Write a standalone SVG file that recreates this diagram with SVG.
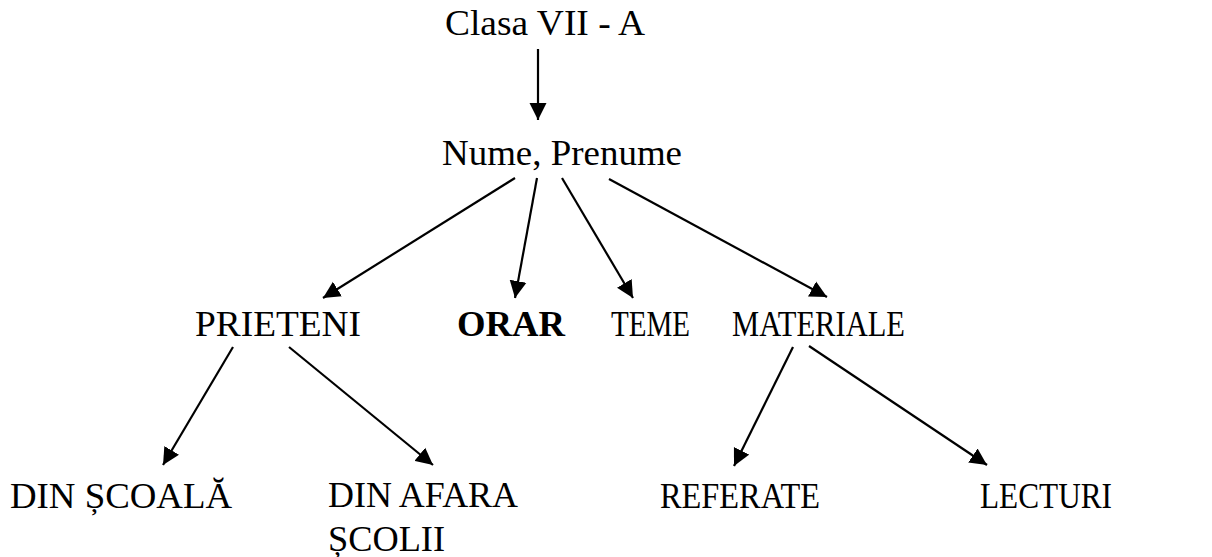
<svg xmlns="http://www.w3.org/2000/svg" width="1212" height="557" viewBox="0 0 1212 557">
<style>
text{font-family:"Liberation Serif","Times New Roman",serif;font-size:36px;fill:#000}
.b{font-weight:bold}
.c line{stroke:#000;stroke-width:2.2;marker-end:url(#ah)}
</style>
<defs>
<marker id="ah" markerUnits="userSpaceOnUse" markerWidth="18" markerHeight="18" refX="17" refY="9" orient="auto" viewBox="0 0 18 18">
<path d="M0,0.5 L17,9 L0,17.5 z" fill="#000"/>
</marker>
</defs>
<rect width="1212" height="557" fill="#fff"/>
<g class="c" id="connectors">
<line x1="538" y1="49" x2="538" y2="120"/>
<line x1="515" y1="178" x2="323" y2="298"/>
<line x1="537" y1="178" x2="515" y2="298"/>
<line x1="562" y1="178" x2="633" y2="298"/>
<line x1="609" y1="179" x2="827" y2="297"/>
<line x1="233" y1="347" x2="163" y2="465"/>
<line x1="289" y1="347" x2="433" y2="465"/>
<line x1="793" y1="347" x2="734" y2="466"/>
<line x1="809" y1="346" x2="987" y2="465"/>
</g>
<g id="clasa"><text x="445" y="35" textLength="200" lengthAdjust="spacingAndGlyphs">Clasa VII - A</text></g>
<g id="nume"><text x="442" y="165" textLength="240" lengthAdjust="spacingAndGlyphs">Nume, Prenume</text></g>
<g id="prieteni"><text x="195" y="336" textLength="166" lengthAdjust="spacingAndGlyphs">PRIETENI</text></g>
<g id="orar"><text class="b" x="457" y="336" textLength="108" lengthAdjust="spacingAndGlyphs">ORAR</text></g>
<g id="teme"><text x="611" y="336" textLength="79" lengthAdjust="spacingAndGlyphs">TEME</text></g>
<g id="materiale"><text x="732" y="336" textLength="173" lengthAdjust="spacingAndGlyphs">MATERIALE</text></g>
<g id="din-scoala"><text x="10" y="508" textLength="222" lengthAdjust="spacingAndGlyphs">DIN ȘCOALĂ</text></g>
<g id="din-afara"><text x="328" y="507" textLength="190" lengthAdjust="spacingAndGlyphs">DIN AFARA</text><text x="328" y="551" textLength="117" lengthAdjust="spacingAndGlyphs">ȘCOLII</text></g>
<g id="referate"><text x="660" y="508" textLength="160" lengthAdjust="spacingAndGlyphs">REFERATE</text></g>
<g id="lecturi"><text x="980" y="508" textLength="132" lengthAdjust="spacingAndGlyphs">LECTURI</text></g>
</svg>
